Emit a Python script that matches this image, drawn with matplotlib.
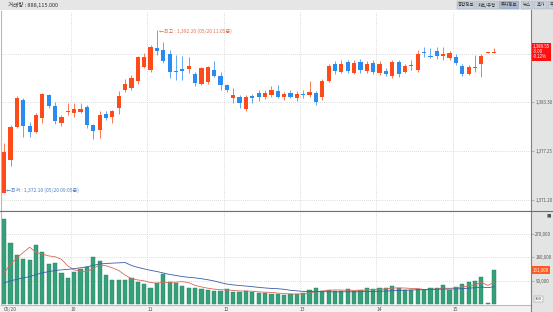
import matplotlib.pyplot as plt
from matplotlib.patches import Rectangle
import numpy as np
import pandas as pd

plt.rcParams['font.family'] = ['Noto Sans CJK KR', 'DejaVu Sans']

# 5분봉 OHLC (05/20 09:05 ~ 15:30)
opens = [1372.1, 1376.2, 1380.3, 1383.6, 1380.4, 1379.6, 1381.4, 1384.2, 1382.9, 1380.8,
         1382.1, 1382.0, 1382.1, 1382.8, 1380.5, 1379.9, 1381.9, 1381.5, 1382.6, 1384.9,
         1385.1, 1385.9, 1387.7, 1387.3, 1390.0, 1389.8, 1389.3, 1387.2, 1387.4, 1387.4,
         1386.8, 1385.6, 1385.8, 1387.3, 1386.6, 1385.4, 1383.8, 1384.0, 1382.5, 1384.1,
         1384.5, 1384.0, 1384.25, 1384.7, 1384.0, 1384.5, 1383.9, 1384.4, 1384.2, 1384.5,
         1384.0, 1386.0, 1388.1, 1387.1, 1388.3, 1387.0, 1388.3, 1387.2, 1388.2, 1387.0,
         1387.2, 1386.6, 1388.3, 1387.1, 1387.95, 1387.3, 1389.55, 1389.1, 1389.7, 1389.0,
         1388.8, 1388.95, 1387.8, 1386.85, 1387.7, 1388.1, 1389.45, 1389.4]
highs = [1378.3, 1380.5, 1384.1, 1383.8, 1380.9, 1382.0, 1384.5, 1384.4, 1383.3, 1381.7,
         1383.2, 1383.2, 1383.2, 1383.0, 1380.7, 1382.2, 1382.3, 1382.4, 1384.7, 1386.2,
         1386.7, 1389.1, 1389.4, 1390.4, 1392.2, 1390.8, 1389.8, 1389.2, 1389.0, 1388.9,
         1387.1, 1387.7, 1387.8, 1388.4, 1387.1, 1385.6, 1385.1, 1384.25, 1384.2, 1384.4,
         1384.9, 1384.9, 1385.3, 1385.5, 1384.6, 1384.8, 1384.7, 1384.9, 1386.0, 1384.7,
         1386.2, 1388.1, 1388.4, 1388.5, 1388.6, 1388.5, 1388.7, 1388.4, 1388.6, 1388.4,
         1387.5, 1388.5, 1388.6, 1388.0, 1388.6, 1389.8, 1390.2, 1390.05, 1390.2, 1390.1,
         1389.7, 1389.3, 1388.1, 1387.9, 1389.2, 1389.3, 1389.5, 1390.05]
lows = [1372.1, 1375.5, 1380.2, 1379.1, 1379.1, 1379.5, 1380.8, 1382.6, 1380.6, 1380.4,
        1381.7, 1381.5, 1382.0, 1380.2, 1378.8, 1378.9, 1381.2, 1380.8, 1381.9, 1384.6,
        1384.9, 1385.6, 1387.5, 1387.1, 1389.2, 1388.2, 1386.3, 1386.1, 1386.1, 1387.0,
        1385.3, 1385.4, 1385.6, 1386.4, 1384.9, 1384.6, 1383.2, 1382.6, 1382.2, 1383.2,
        1383.5, 1383.7, 1384.0, 1383.8, 1383.6, 1383.8, 1383.5, 1383.9, 1384.0, 1383.0,
        1383.6, 1385.8, 1386.8, 1386.9, 1386.9, 1386.8, 1387.0, 1386.9, 1386.8, 1386.7,
        1386.6, 1386.3, 1386.5, 1386.9, 1387.3, 1387.1, 1388.9, 1388.8, 1388.7, 1388.6,
        1388.5, 1387.95, 1386.6, 1386.7, 1387.1, 1386.5, 1389.4, 1389.4]
closes = [1377.2, 1380.3, 1383.9, 1380.4, 1379.7, 1381.8, 1384.3, 1382.9, 1381.0, 1381.5,
          1382.3, 1382.5, 1382.5, 1380.5, 1379.8, 1381.8, 1381.4, 1382.2, 1384.1, 1385.6,
          1386.3, 1388.9, 1388.9, 1390.2, 1389.7, 1388.4, 1387.1, 1387.1, 1387.2, 1387.8,
          1385.7, 1387.5, 1387.7, 1386.6, 1385.4, 1384.8, 1384.25, 1383.2, 1384.0, 1383.85,
          1384.0, 1384.5, 1384.8, 1384.0, 1384.3, 1384.0, 1384.4, 1384.2, 1384.6, 1383.4,
          1385.9, 1387.8, 1387.2, 1388.0, 1387.2, 1388.2, 1387.3, 1388.0, 1387.1, 1388.1,
          1386.85, 1388.3, 1386.8, 1387.8, 1387.75, 1389.3, 1389.4, 1388.95, 1389.05, 1389.3,
          1389.45, 1388.2, 1386.85, 1387.7, 1387.6, 1389.1, 1389.45, 1389.55]

volume = [327000, 237000, 189000, 173000, 170000, 228000, 202000, 155000, 157000, 119000,
          102000, 125000, 134000, 144000, 183000, 166000, 112000, 93000, 93000, 93000,
          99000, 86000, 76000, 61000, 80000, 115000, 86000, 80000, 70000, 61000,
          61000, 58000, 55000, 52000, 50000, 57000, 48000, 45000, 50000, 47000,
          44000, 42000, 40000, 38000, 36000, 38000, 40000, 42000, 55000, 60000,
          52000, 55000, 50000, 52000, 56000, 50000, 54000, 60000, 56000, 62000,
          61000, 70000, 61000, 54000, 54000, 57000, 54000, 61000, 61000, 72000,
          54000, 64000, 76000, 85000, 89000, 106000, 3000, 131000]
# 전일 마지막 구간 거래량 (이동평균 계산용)
prev_volume = [66000, 70000, 64000, 72000, 68000, 65000, 71000, 67000, 69000, 63000,
               70000, 66000, 68000, 72000, 65000, 69000, 67000, 70000, 68000]

price_ticks = [1371.20, 1377.25, 1383.30, 1389.35]
vol_ticks = [90000, 180000, 270000]
tabs = ['종합정보', '차트/유형', '투자정보', '뉴스', '호가', '주']

n = len(closes)
x = np.arange(n)
times = pd.date_range('2024-05-20 09:05', periods=n, freq='5min')
hour_pos = [i - 0.5 for i in range(n) if times[i].minute == 0]
hour_lab = [str(times[i].hour) for i in range(n) if times[i].minute == 0]

o = np.array(opens); c = np.array(closes)
up = c >= o
up_col, dn_col = '#FF4A1A', '#2A8CF0'
cols = np.where(up, up_col, dn_col)

allv = pd.Series(prev_volume + volume, dtype=float)
ma5 = allv.rolling(5).mean().iloc[len(prev_volume):].values
ma20 = allv.rolling(20).mean().iloc[len(prev_volume):].values

W, H = 553, 312
fig = plt.figure(figsize=(W / 100, H / 100), dpi=100, facecolor='white')


def fx(px):
    return px / W


def fy(py):
    return 1 - py / H


# right axis panel, top bar, bottom strip (behind the axes)
fig.patches.append(Rectangle((fx(531), 0), 1, 1, transform=fig.transFigure,
                             facecolor='#E4E4E4', edgecolor='none', zorder=-2))
fig.patches.append(Rectangle((0, fy(10)), 1, 10 / H, transform=fig.transFigure,
                             facecolor='#E6E6E6', edgecolor='none', zorder=-1))
fig.patches.append(Rectangle((0, 0), fx(531), 7 / H, transform=fig.transFigure,
                             facecolor='#F2F2F2', edgecolor='none', zorder=-1))
fig.text(fx(8), fy(5), '거래량 : 888,115.000', fontsize=4, color='#333333', va='center')

tab_x = [457, 476, 499, 521, 534, 548]
tab_w = [18, 22, 20, 12, 13, 8]
for i, t in enumerate(tabs):
    fc = '#A9B7CF' if i == 2 else '#C9D0DA'
    fig.patches.append(Rectangle((fx(tab_x[i]), fy(9)), tab_w[i] / W, 8 / H,
                                 transform=fig.transFigure, facecolor=fc,
                                 edgecolor='#9AA4B4', lw=0.3, zorder=1))
    fig.text(fx(tab_x[i] + tab_w[i] / 2), fy(5), t, fontsize=3.2, color='#333333',
             ha='center', va='center', zorder=2)

# price panel
ax1 = fig.add_axes([fx(1), fy(211), fx(530), 200 / H])
ax2 = fig.add_axes([fx(1), fy(305), fx(530), 94 / H])

body_lo = np.minimum(o, c)
body_h = np.maximum(np.abs(c - o), 0.08)
ax1.vlines(x, lows, highs, colors=cols, lw=0.7, alpha=0.75, zorder=2)
ax1.bar(x, body_h, bottom=body_lo, width=0.66, color=cols, zorder=3)

ax1.set_xlim(-0.5, 82.8)
ax1.set_ylim(1369.9, 1394.6)
ax1.set_yticks(price_ticks)
# the tick next to the current price sits under the price box
ax1.set_yticklabels(['' if abs(v - closes[-1]) < 1.5 else f'{v:,.2f}' for v in price_ticks])
ax1.yaxis.tick_right()
ax1.set_xticks([])
ax1.grid(axis='y', color='#BBBBBB', ls=(0, (1, 2)), lw=0.5)
for hp in hour_pos:
    ax1.axvline(hp, color='#BBBBBB', ls=(0, (1, 2)), lw=0.5)
ax1.tick_params(axis='y', labelsize=3.2, colors='#888888', labelcolor='#555555',
                length=2.5, width=0.4, pad=0.6)

imax = int(np.argmax(highs))
imin = int(np.argmin(lows))
ax1.text(imax + 0.3, highs[imax] - 0.15, f'←최고 : {highs[imax]:,.2f} (05/20 {times[imax]:%H:%M}분)',
         fontsize=3.6, color='#E0704F', va='center', ha='left')
ax1.text(imin + 0.3, lows[imin] + 0.3, f'←최저 : {lows[imin]:,.2f} (05/20 {times[imin]:%H:%M}분)',
         fontsize=3.6, color='#4F7FC4', va='center', ha='left')

ax1.annotate(f'{closes[-1]:,.2f}\n-3.00\n-0.22%', xy=(1.003, closes[-1]),
             xycoords=('axes fraction', 'data'), fontsize=3.2, color='white',
             ha='left', va='center', linespacing=1.0, annotation_clip=False,
             bbox=dict(boxstyle='square,pad=0.3', fc='#FF1010', ec='none'), zorder=5)

for s in ['top', 'right']:
    ax1.spines[s].set_visible(False)
ax1.spines['left'].set_color('#E8A4A4')
ax1.spines['bottom'].set_color('#707070')
ax1.spines['bottom'].set_linewidth(0.8)

# volume panel
ax2.bar(x, volume, width=0.66, color='#35A07A', edgecolor='#2A8062', lw=0.3, zorder=2)
ax2.plot(x, ma5, color='#D9685A', lw=0.6, zorder=3)
ax2.plot(x, ma20, color='#3B5CA8', lw=0.6, zorder=3)
ax2.set_xlim(-0.5, 82.8)
ax2.set_ylim(-3900, 359000)
ax2.set_yticks(vol_ticks)
ax2.set_yticklabels([f'{v:,.0f}' for v in vol_ticks])
ax2.yaxis.tick_right()
ax2.grid(axis='y', color='#BBBBBB', ls=(0, (1, 2)), lw=0.5)
for hp in hour_pos:
    ax2.axvline(hp, color='#BBBBBB', ls=(0, (1, 2)), lw=0.5)
ax2.tick_params(axis='y', labelsize=3.2, colors='#888888', labelcolor='#555555',
                length=2.5, width=0.4, pad=0.6)
ax2.set_xticks([0] + hour_pos)
ax2.set_xticklabels(['05/20'] + hour_lab, ha='left')
ax2.tick_params(axis='x', labelsize=3.6, labelcolor='#555555', length=0, pad=1.2)
ax2.annotate(f'{volume[-1]:,.0f}', xy=(1.003, volume[-1]),
             xycoords=('axes fraction', 'data'), fontsize=3.2, color='white',
             ha='left', va='center', annotation_clip=False,
             bbox=dict(boxstyle='square,pad=0.3', fc='#FF5A1F', ec='none'), zorder=5)
ax2.text(1.03, 0.93, '■', transform=ax2.transAxes, fontsize=3.2, color='#555555')
ax2.text(1.008, 0.05, '300', transform=ax2.transAxes, fontsize=3.0, color='#555555',
         bbox=dict(boxstyle='square,pad=0.2', fc='#F4F4F4', ec='#888888', lw=0.3))
for s in ['top', 'right']:
    ax2.spines[s].set_visible(False)
ax2.spines['left'].set_color('#E8A4A4')
ax2.spines['bottom'].set_color('#BBBBBB')

fig.add_artist(plt.Line2D([fx(531), fx(531)], [0, fy(10)], transform=fig.transFigure,
                          color='#808080', lw=0.8))
fig.add_artist(plt.Line2D([0, 1], [fy(211), fy(211)], transform=fig.transFigure,
                          color='#707070', lw=0.8))

fig.savefig('out.png', dpi=100, facecolor=fig.get_facecolor())
